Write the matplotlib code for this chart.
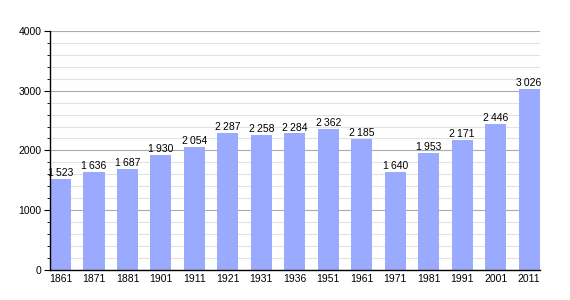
import matplotlib
matplotlib.use('Agg')
import matplotlib.pyplot as plt
from matplotlib.ticker import MultipleLocator

plt.rcParams['font.family'] = ['Liberation Sans', 'DejaVu Sans']

years = ['1861', '1871', '1881', '1901', '1911', '1921', '1931', '1936',
         '1951', '1961', '1971', '1981', '1991', '2001', '2011']
population = [1523, 1636, 1687, 1930, 2054, 2287, 2258, 2284,
              2362, 2185, 1640, 1953, 2171, 2446, 3026]

fig = plt.figure(figsize=(5.7, 3.0), dpi=100)
ax = fig.add_axes([0.0877, 0.1, 0.859, 0.797])

x = range(len(years))
width = 0.63
ax.bar(x, population, width=width, color='#99aaff', zorder=2)

for xi, v in zip(x, population):
    label = f'{v:,}'.replace(',', '\u2009')
    ax.text(xi, v + 15, label, ha='center', va='bottom', fontsize=7.5, zorder=3)

ax.set_xlim(-width / 2, len(years) - 1 + width / 2)
ax.set_ylim(0, 4000)
ax.set_xticks(list(x))
ax.set_xticklabels(years, fontsize=7.5)
ax.tick_params(axis='x', length=0, pad=3)

ax.yaxis.set_major_locator(MultipleLocator(1000))
ax.yaxis.set_minor_locator(MultipleLocator(200))
ax.tick_params(axis='y', which='major', length=4, labelsize=7.5, pad=2)
ax.tick_params(axis='y', which='minor', length=2)

ax.grid(True, axis='y', which='major', color='#aaaaaa', linewidth=0.8, zorder=1)
ax.grid(True, axis='y', which='minor', color='#e2e2e2', linewidth=0.8, zorder=1)

for side in ['top', 'right']:
    ax.spines[side].set_visible(False)
ax.spines['left'].set_linewidth(1.0)
ax.spines['bottom'].set_linewidth(1.0)
ax.spines['left'].set_zorder(4)
ax.spines['bottom'].set_zorder(4)

plt.savefig('out.png', dpi=100)
